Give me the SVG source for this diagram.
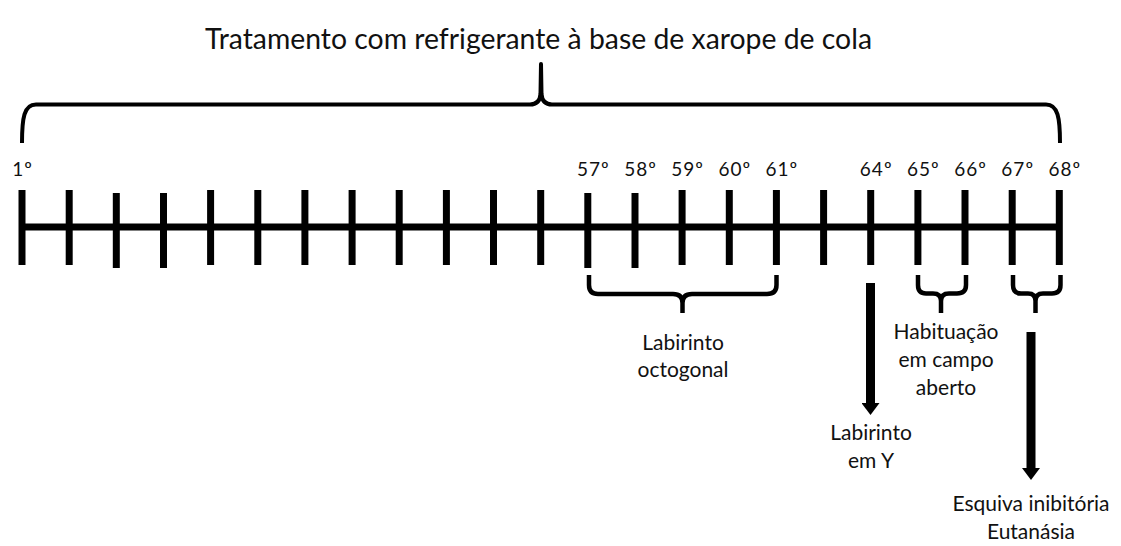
<svg xmlns="http://www.w3.org/2000/svg" width="1121" height="546" viewBox="0 0 1121 546">
<style>
  .t{font-family:Lato,"Open Sans","Liberation Sans",sans-serif;fill:#111;}
  .title{font-size:28px;}
  .num{font-size:19px;text-anchor:middle;letter-spacing:1px;}
  .lbl{font-size:21px;text-anchor:middle;}
  .axis{stroke:#000;stroke-width:7;fill:none;}
  .tick{stroke:#000;stroke-width:7;}
  .brace{stroke:#000;stroke-width:4.5;fill:none;stroke-linejoin:round;}
  .big{stroke:#000;stroke-width:4;fill:none;stroke-linejoin:round;}
  .arrow{stroke:#000;stroke-width:9;fill:none;}
</style>
<defs>
  <marker id="ah" viewBox="0 0 12 18" refX="0" refY="9" markerWidth="12" markerHeight="18" markerUnits="userSpaceOnUse" orient="auto">
    <path d="M0,0 L12,9 L0,18 z" fill="#000"/>
  </marker>
</defs>
<rect width="1121" height="546" fill="#fff"/>

<g id="title">
  <text class="t title" x="538.5" y="49" text-anchor="middle" textLength="667" lengthAdjust="spacingAndGlyphs">Tratamento com refrigerante à base de xarope de cola</text>
</g>

<g id="treatment-brace">
  <path class="big" d="M22,143 C22,118 24,104.5 36,104.5 H530 C537,104.5 540,101 540.5,94 L541,64 L541.5,94 C542,101 545,104.5 552,104.5 H1046 C1058,104.5 1060,118 1060,143"/>
</g>

<g id="timeline">
  <line class="axis" x1="22" y1="227" x2="1059.3" y2="227"/>
  <line class="tick" x1="22" y1="190" x2="22" y2="265"/>
  <line class="tick" x1="69.2" y1="190" x2="69.2" y2="265"/>
  <line class="tick" x1="116.3" y1="193" x2="116.3" y2="268"/>
  <line class="tick" x1="163.5" y1="193" x2="163.5" y2="268"/>
  <line class="tick" x1="210.6" y1="190" x2="210.6" y2="265"/>
  <line class="tick" x1="257.8" y1="190" x2="257.8" y2="265"/>
  <line class="tick" x1="304.9" y1="190" x2="304.9" y2="265"/>
  <line class="tick" x1="352.1" y1="190" x2="352.1" y2="265"/>
  <line class="tick" x1="399.2" y1="190" x2="399.2" y2="265"/>
  <line class="tick" x1="446.4" y1="190" x2="446.4" y2="265"/>
  <line class="tick" x1="493.5" y1="190" x2="493.5" y2="265"/>
  <line class="tick" x1="540.7" y1="190" x2="540.7" y2="265"/>
  <line class="tick" x1="587.8" y1="193" x2="587.8" y2="268"/>
  <line class="tick" x1="635" y1="193" x2="635" y2="268"/>
  <line class="tick" x1="682.1" y1="190" x2="682.1" y2="265"/>
  <line class="tick" x1="729.3" y1="190" x2="729.3" y2="265"/>
  <line class="tick" x1="776.4" y1="190" x2="776.4" y2="265"/>
  <line class="tick" x1="823.6" y1="190" x2="823.6" y2="265"/>
  <line class="tick" x1="870.7" y1="190" x2="870.7" y2="265"/>
  <line class="tick" x1="917.9" y1="190" x2="917.9" y2="265"/>
  <line class="tick" x1="965" y1="190" x2="965" y2="265"/>
  <line class="tick" x1="1012.2" y1="190" x2="1012.2" y2="265"/>
  <line class="tick" x1="1059.3" y1="190" x2="1059.3" y2="265"/>
</g>

<g id="day-labels">
  <text class="t num" x="22.5" y="176">1º</text>
  <text class="t num" x="593.3" y="176">57º</text>
  <text class="t num" x="640.5" y="176">58º</text>
  <text class="t num" x="687.6" y="176">59º</text>
  <text class="t num" x="734.8" y="176">60º</text>
  <text class="t num" x="781.9" y="176">61º</text>
  <text class="t num" x="876.2" y="176">64º</text>
  <text class="t num" x="923.4" y="176">65º</text>
  <text class="t num" x="970.5" y="176">66º</text>
  <text class="t num" x="1017.7" y="176">67º</text>
  <text class="t num" x="1064.8" y="176">68º</text>
</g>

<g id="octogonal">
  <path class="brace" d="M589,275 V285 Q589,294 598,294 H673 Q682.5,294 682.5,303 V313 M682.5,303 Q682.5,294 692,294 H767 Q776.5,294 776.5,285 V275"/>
  <text class="t lbl" x="683" y="350">Labirinto</text>
  <text class="t lbl" x="683" y="377">octogonal</text>
</g>

<g id="habituacao">
  <path class="brace" d="M918,275 V285 Q918,293.5 926,293.5 H933 Q941,293.5 941,301 V313 M941,301 Q941,293.5 949,293.5 H957 Q966,293.5 966,285 V275"/>
  <text class="t lbl" x="946" y="339">Habituação</text>
  <text class="t lbl" x="946" y="367">em campo</text>
  <text class="t lbl" x="946" y="395">aberto</text>
</g>

<g id="brace-67-68">
  <path class="brace" d="M1013,275 V285 Q1013,293.5 1021,293.5 H1028 Q1035.5,293.5 1035.5,301 V313 M1035.5,301 Q1035.5,293.5 1043,293.5 H1052 Q1060.5,293.5 1060.5,285 V275"/>
</g>

<g id="connectors">
  <line class="arrow" x1="870.5" y1="283" x2="870.5" y2="403" marker-end="url(#ah)"/>
  <line class="arrow" x1="1031" y1="332" x2="1031" y2="468" marker-end="url(#ah)"/>
</g>

<g id="labirinto-y">
  <text class="t lbl" x="871" y="440">Labirinto</text>
  <text class="t lbl" x="871" y="468">em Y</text>
</g>

<g id="esquiva">
  <text class="t lbl" x="1031" y="511">Esquiva inibitória</text>
  <text class="t lbl" x="1031" y="539">Eutanásia</text>
</g>
</svg>
